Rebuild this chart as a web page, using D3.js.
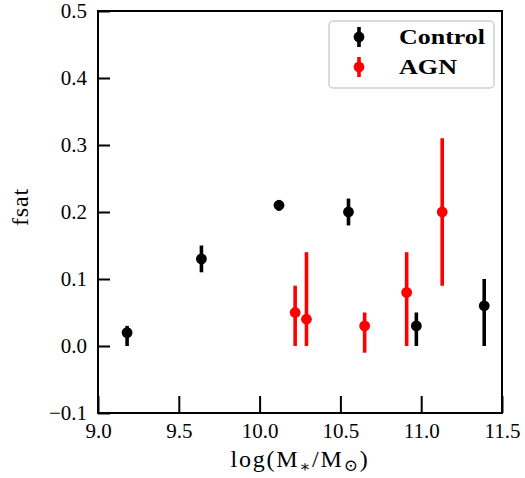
<!DOCTYPE html>
<html>
<head>
<meta charset="utf-8">
<script src="https://cdn.jsdelivr.net/npm/d3@7"></script>
<style>
  body { margin: 0; background: #fff; }
  svg { display: block; }
  text { font-family: "Liberation Serif", "DejaVu Serif", serif; }
</style>
</head>
<body>
<svg id="chart" width="525" height="478"></svg>
<script>
// ---- data ----
const xTicks = [9.0, 9.5, 10.0, 10.5, 11.0, 11.5];
const yTicks = [-0.1, 0.0, 0.1, 0.2, 0.3, 0.4, 0.5];

const controlX = [9.18, 9.64, 10.12, 10.55, 10.97, 11.39];
const controlY = [0.02, 0.13, 0.21, 0.20, 0.03, 0.06];
const controlErrLow = [0.02, 0.02, 0.008, 0.02, 0.03, 0.06];
const controlErrHigh = [0.01, 0.02, 0.008, 0.02, 0.02, 0.04];

const agnX = [10.22, 10.29, 10.65, 10.91, 11.13];
const agnY = [0.05, 0.04, 0.03, 0.08, 0.20];
const agnErrLow = [0.05, 0.04, 0.04, 0.08, 0.11];
const agnErrHigh = [0.04, 0.10, 0.02, 0.06, 0.11];

const seriesNames = ["Control", "AGN"];
const seriesColors = ["#000000", "#ff0000"];

// ---- layout ----
const svg = d3.select("#chart");
const pLeft = 98, pRight = 502, pTop = 11, pBottom = 413;
const x = d3.scaleLinear().domain([9.0, 11.5]).range([pLeft, pRight]);
const y = d3.scaleLinear().domain([-0.1, 0.5]).range([pBottom, pTop]);

const series = [
  {name: seriesNames[0], color: seriesColors[0], xs: controlX, ys: controlY, lo: controlErrLow, hi: controlErrHigh},
  {name: seriesNames[1], color: seriesColors[1], xs: agnX, ys: agnY, lo: agnErrLow, hi: agnErrHigh}
];

// ---- data marks ----
series.forEach(s => {
  const pts = s.xs.map((v, i) => ({x: v, y: s.ys[i], lo: s.lo[i], hi: s.hi[i]}));
  const g = svg.append("g");
  g.selectAll("line.err").data(pts).enter().append("line")
    .attr("x1", d => x(d.x)).attr("x2", d => x(d.x))
    .attr("y1", d => y(d.y - d.lo)).attr("y2", d => y(d.y + d.hi))
    .attr("stroke", s.color).attr("stroke-width", 3.6);
  g.selectAll("circle").data(pts).enter().append("circle")
    .attr("cx", d => x(d.x)).attr("cy", d => y(d.y)).attr("r", 5.4)
    .attr("fill", s.color);
});

// ---- axes ----
const xAxis = d3.axisBottom(x).tickValues(xTicks).tickSize(-17).tickPadding(0)
  .tickFormat(d3.format(".1f"));
const yAxis = d3.axisLeft(y).tickValues(yTicks).tickSize(-12).tickPadding(0)
  .tickFormat(d => d3.format(".1f")(d).replace("-", "\u2212"));

const gx = svg.append("g").attr("transform", `translate(0,${pBottom})`).call(xAxis);
gx.select(".domain").remove();
gx.selectAll(".tick line").attr("stroke", "#000").attr("stroke-width", 2);
gx.selectAll(".tick text").attr("y", 25).attr("dy", 0)
  .attr("font-size", 21).attr("fill", "#000")
  .style("font-family", '"Liberation Serif", serif');

const gy = svg.append("g").attr("transform", `translate(${pLeft},0)`).call(yAxis);
gy.select(".domain").remove();
gy.selectAll(".tick line").attr("stroke", "#000").attr("stroke-width", 2);
gy.selectAll(".tick text").attr("x", -11).attr("dy", "0.33em")
  .attr("font-size", 21).attr("fill", "#000")
  .style("font-family", '"Liberation Serif", serif');

// frame
svg.append("rect").attr("x", pLeft).attr("y", pTop)
  .attr("width", pRight - pLeft).attr("height", pBottom - pTop)
  .attr("fill", "none").attr("stroke", "#000").attr("stroke-width", 2);

// ---- axis labels ----
const xl = svg.append("text").attr("x", (pLeft + pRight) / 2).attr("y", 467)
  .attr("text-anchor", "middle").attr("font-size", 24).attr("letter-spacing", 1.8)
  .attr("fill", "#000");
xl.append("tspan").text("log(M");
xl.append("tspan").attr("font-size", 16).attr("dy", 5).text("\u2217");
xl.append("tspan").attr("dy", -5).text("/M");
xl.append("tspan").attr("font-size", 17).attr("dy", 4).text("\u2299");
xl.append("tspan").attr("dy", -4).text(")");

svg.append("text").attr("transform", "translate(28,207) rotate(-90)")
  .attr("text-anchor", "middle").attr("font-size", 24).attr("letter-spacing", 0.8)
  .attr("fill", "#000")
  .text("fsat");

// ---- legend ----
const lg = svg.append("g");
lg.append("rect").attr("x", 329).attr("y", 21).attr("width", 165).attr("height", 67)
  .attr("rx", 4).attr("fill", "#fff").attr("stroke", "#d0d0d0").attr("stroke-width", 1.5);
const legendRowsY = [37, 67];
series.forEach((s, i) => {
  const cy = legendRowsY[i];
  lg.append("line").attr("x1", 359).attr("x2", 359).attr("y1", cy - 10).attr("y2", cy + 10)
    .attr("stroke", s.color).attr("stroke-width", 3.6);
  lg.append("circle").attr("cx", 359).attr("cy", cy).attr("r", 5.4).attr("fill", s.color);
  lg.append("text").attr("x", 399).attr("y", cy + 7)
    .attr("font-size", 22).attr("font-weight", "bold").attr("fill", "#000")
    .attr("textLength", i === 0 ? 86 : 58).attr("lengthAdjust", "spacingAndGlyphs")
    .text(s.name);
});
</script>
</body>
</html>
